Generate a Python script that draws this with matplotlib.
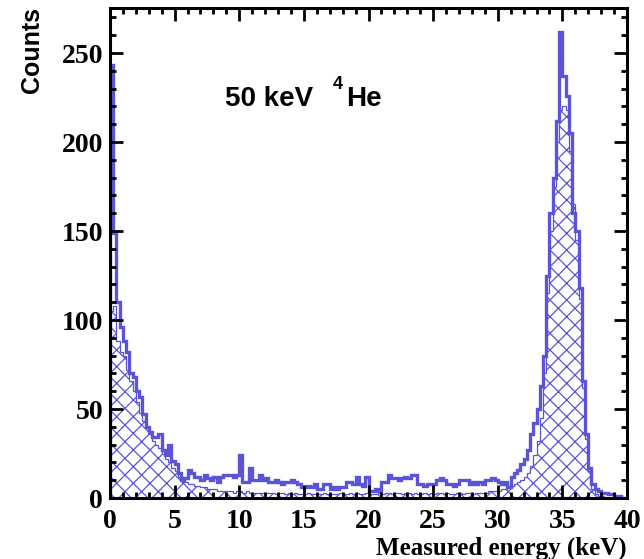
import numpy as np
import matplotlib
matplotlib.use("Agg")
import matplotlib.pyplot as plt
from matplotlib.ticker import MultipleLocator

# 0.25 keV bins from 0 to 40 keV
bin_width = 0.25
edges = np.arange(0, 40 + bin_width / 2, bin_width)

# outlined histogram (all events)
counts_all = [
    243, 149, 110, 96, 88, 82, 70, 68, 60, 57, 47, 40, 37, 34, 34, 36, 27, 24, 30, 21,
    19, 14, 10, 11, 16, 14, 12, 12, 10, 13, 11, 10, 12, 9, 12, 13, 13, 13, 12, 13,
    24, 9, 9, 17, 10, 10, 13, 10, 11, 9, 9, 10, 9, 8, 9, 9, 10, 9, 8, 6,
    6, 7, 6, 8, 5, 5, 8, 8, 5, 6, 5, 6, 6, 9, 9, 8, 12, 8, 7, 12,
    4, 4, 5, 4, 9, 9, 13, 11, 11, 10, 11, 12, 11, 13, 13, 8, 8, 7, 8, 8,
    8, 10, 11, 10, 8, 8, 7, 8, 10, 10, 10, 8, 9, 8, 9, 8, 10, 10, 11, 10,
    9, 8, 9, 6, 12, 14, 16, 19, 22, 27, 36, 42, 50, 63, 80, 125, 160, 180, 212, 262,
    237, 226, 205, 160, 150, 118, 66, 36, 17, 8, 5, 4, 3, 3, 2, 2, 1, 1, 0, 0,
]

# hatched histogram (selected events)
counts_sel = [
    105, 108, 88, 82, 80, 72, 66, 60, 54, 48, 43, 40, 36, 32, 30, 28, 25, 22, 20, 17,
    15, 12, 10, 9, 8, 8, 7, 7, 6, 6, 5, 5, 5, 4, 4, 4, 4, 4, 3, 4,
    4, 3, 4, 3, 3, 3, 3, 3, 3, 3, 3, 2, 3, 3, 2, 3, 2, 3, 2, 2,
    2, 3, 2, 2, 2, 2, 3, 2, 2, 2, 2, 3, 2, 2, 3, 2, 3, 2, 2, 3,
    2, 2, 2, 3, 2, 3, 3, 2, 3, 3, 2, 3, 3, 2, 3, 2, 2, 3, 2, 3,
    2, 3, 3, 2, 3, 2, 2, 3, 3, 2, 3, 3, 2, 3, 3, 3, 3, 4, 4, 4,
    4, 5, 5, 6, 7, 8, 9, 10, 12, 14, 18, 24, 32, 45, 70, 115, 150, 175, 200, 218,
    220, 218, 195, 165, 145, 112, 62, 33, 15, 5, 2, 1, 1, 0, 0, 0, 0, 0, 0, 0,
]

blue = "#5954d8"
plt.rcParams["hatch.linewidth"] = 0.9

fig = plt.figure(figsize=(6.44, 5.59), dpi=100)
ax = fig.add_axes([110 / 644, 61 / 559, 517 / 644, 490 / 559])

ax.stairs(counts_sel, edges, fill=True, facecolor="none", edgecolor=blue,
          hatch="xx", linewidth=0.9)
ax.stairs(counts_all, edges, color=blue, linewidth=2.4)

ax.set_xlim(0, 40)
ax.set_ylim(0, 275.3)

ax.xaxis.set_major_locator(MultipleLocator(5))
ax.xaxis.set_minor_locator(MultipleLocator(1))
ax.yaxis.set_major_locator(MultipleLocator(50))
ax.yaxis.set_minor_locator(MultipleLocator(10))

ax.tick_params(which="both", direction="in", top=True, right=True, width=2)
ax.tick_params(which="major", length=9.5)
ax.tick_params(which="minor", length=4.5)
ax.tick_params(axis="x", pad=8)
ax.tick_params(axis="y", pad=5)
for lab in ax.get_xticklabels() + ax.get_yticklabels():
    lab.set_fontfamily("Liberation Serif")
    lab.set_fontweight("bold")
    lab.set_fontsize(20)

for s in ax.spines.values():
    s.set_linewidth(2.2)

fig.text(627 / 644, 4 / 559, "Measured energy (keV)", ha="right", va="baseline",
         family="Liberation Serif", weight="bold", fontsize=18)
fig.text(32 / 644, 1 - 7 / 559, "Counts", ha="center", va="top", rotation=90,
         family="Liberation Sans", weight="bold", fontsize=18)

ax.text(0.222, 0.801, "50 keV", transform=ax.transAxes, ha="left", va="baseline",
        family="Liberation Sans", weight="bold", fontsize=20)
ax.text(0.430, 0.835, "4", transform=ax.transAxes, ha="left", va="baseline",
        family="Liberation Sans", weight="bold", fontsize=13)
ax.text(0.457, 0.801, "He", transform=ax.transAxes, ha="left", va="baseline",
        family="Liberation Sans", weight="bold", fontsize=20)

fig.savefig("out.png", dpi=100)
plt.close(fig)
